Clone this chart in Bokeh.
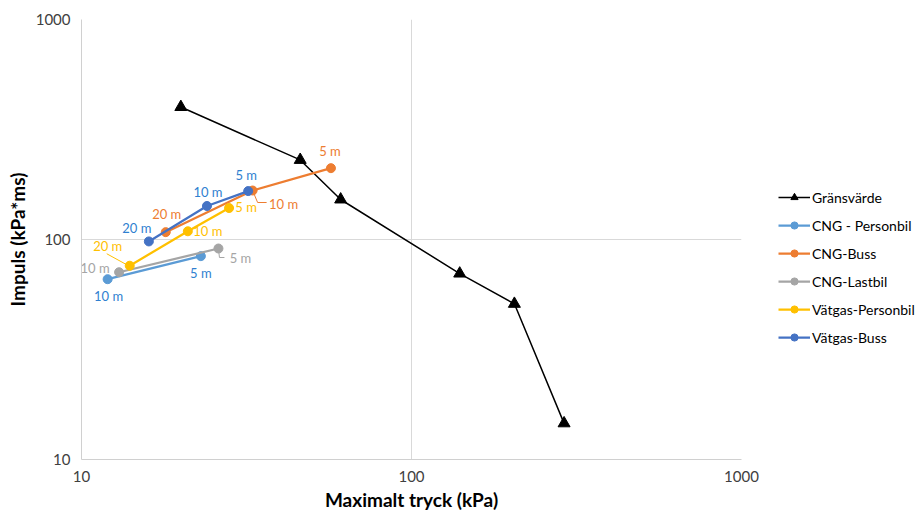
import numpy as np
from bokeh.plotting import figure
from bokeh.models import (ColumnDataSource, Legend, LegendItem, FixedTicker,
                          NumeralTickFormatter)
from bokeh.core.properties import value
from bokeh.embed import file_html
from bokeh.resources import INLINE

# ---- data ----
grans_x = [20, 46, 61, 140, 205, 290]
grans_y = [400, 230, 152, 70, 51, 14.6]

cng_pb_x = [12, 23]
cng_pb_y = [66, 84]
cng_pb_lab = ["10 m", "5 m"]

cng_buss_x = [18, 33, 57]
cng_buss_y = [108, 167, 211]
cng_buss_lab = ["20 m", "10 m", "5 m"]

cng_last_x = [13, 26]
cng_last_y = [71, 91]
cng_last_lab = ["10 m", "5 m"]

vat_pb_x = [14, 21, 28]
vat_pb_y = [76, 109, 139]
vat_pb_lab = ["20 m", "10 m", "5 m"]

vat_buss_x = [16, 24, 32]
vat_buss_y = [98, 142, 166]
vat_buss_lab = ["20 m", "10 m", "5 m"]

x_ticks = [10, 100, 1000]
y_ticks = [10, 100, 1000]

FONT = "Lato"

p = figure(width=919, height=514, x_axis_type="log", y_axis_type="log",
           x_range=(10, 1000), y_range=(10, 1000),
           output_backend="svg", toolbar_location=None,
           frame_width=660, frame_height=440,
           min_border_left=81, min_border_top=19, min_border_bottom=55,
           min_border_right=178)
p.outline_line_color = None
p.background_fill_color = "white"

for ax, ticks in ((p.xaxis[0], x_ticks), (p.yaxis[0], y_ticks)):
    ax.ticker = FixedTicker(ticks=ticks)
    ax.formatter = NumeralTickFormatter(format="0")
    ax.major_tick_line_color = None
    ax.minor_tick_line_color = None
    ax.major_tick_out = 0
    ax.major_tick_in = 0
    ax.minor_tick_out = 0
    ax.minor_tick_in = 0
    ax.axis_line_color = "#D0D0D0"
    ax.major_label_text_font = FONT
    ax.major_label_text_font_size = "15px"
    ax.major_label_text_color = "#404040"
    ax.axis_label_text_font = FONT
    ax.axis_label_text_font_style = "bold"
    ax.axis_label_text_font_size = "19px"
    ax.axis_label_text_color = "#000000"

p.xaxis.axis_label = "Maximalt tryck (kPa)"
p.yaxis.axis_label = "Impuls (kPa*ms)"
p.xaxis.major_label_standoff = 11
p.yaxis.major_label_standoff = 11
p.xaxis.axis_label_standoff = 3
p.yaxis.axis_label_standoff = 4
p.yaxis.major_label_orientation = "horizontal"

p.xgrid.ticker = FixedTicker(ticks=x_ticks)
p.ygrid.ticker = FixedTicker(ticks=y_ticks)
p.grid.grid_line_color = "#D9D9D9"
p.grid.grid_line_width = 1


def shift(x, y, dx, dy):
    # move a data point by screen pixels on the log-log frame
    return x * 10 ** (dx / 330.0), y * 10 ** (-dy / 220.0)


items = []

# Gränsvärde
gl = p.line(grans_x, grans_y, line_color="black", line_width=1.5)
gm = p.scatter(grans_x, grans_y, marker="triangle", size=12,
               fill_color="black", line_color="black")
items.append(LegendItem(label="Gränsvärde", renderers=[gl, gm]))

series = [
    ("CNG - Personbil", cng_pb_x, cng_pb_y, cng_pb_lab, "#5B9BD5", "#2F7FD0",
     [(1, 17), (0, 17)]),
    ("CNG-Buss", cng_buss_x, cng_buss_y, cng_buss_lab, "#ED7D31", "#ED7D31",
     [(1, -18), (31, 13), (-1, -17)]),
    ("CNG-Lastbil", cng_last_x, cng_last_y, cng_last_lab, "#A5A5A5", "#A5A5A5",
     [(-24, -4), (22, 9)]),
    ("Vätgas-Personbil", vat_pb_x, vat_pb_y, vat_pb_lab, "#FFC000", "#FFC000",
     [(-22, -20), (20, 0), (17, -1)]),
    ("Vätgas-Buss", vat_buss_x, vat_buss_y, vat_buss_lab, "#4472C4", "#2F7FD0",
     [(-12, -13), (1, -14), (-2, -16)]),
]

# leader lines (label -> point), pixel offsets relative to the point
leaders = [
    (cng_buss_x[1], cng_buss_y[1], [(0, 0), (5, 12), (14, 12)], "#ED7D31"),
    (cng_last_x[1], cng_last_y[1], [(0, 0), (1, 9), (6, 9)], "#A5A5A5"),
    (vat_pb_x[0], vat_pb_y[0], [(-23, -12), (-3, -1)], "#FFC000"),
]
for x0, y0, offs, col in leaders:
    pts = [shift(x0, y0, dx, dy) for dx, dy in offs]
    p.line([q[0] for q in pts], [q[1] for q in pts], line_color=col, line_width=1)

for name, xs, ys, labs, col, tcol, offs in series:
    r1 = p.line(xs, ys, line_color=col, line_width=2.25)
    r2 = p.scatter(xs, ys, marker="circle", size=9, fill_color=col, line_color=col)
    items.append(LegendItem(label=name, renderers=[r1, r2]))
    src = ColumnDataSource(dict(x=xs, y=ys, t=labs,
                                dx=[o[0] for o in offs], dy=[o[1] for o in offs]))
    p.text(x="x", y="y", text="t", x_offset="dx", y_offset="dy", source=src,
           text_color=tcol, text_font=value(FONT), text_font_size="13px",
           text_align="center", text_baseline="middle")

legend = Legend(items=items, location=(37, 113))
legend.label_text_font = FONT
legend.label_text_font_size = "14px"
legend.label_text_color = "#000000"
legend.border_line_color = None
legend.background_fill_alpha = 0
legend.glyph_width = 32
legend.glyph_height = 18
legend.label_height = 18
legend.spacing = 10
legend.label_standoff = 2
legend.padding = 0
legend.margin = 0
p.add_layout(legend, "right")

open("out.html", "w").write(file_html(p, INLINE))
